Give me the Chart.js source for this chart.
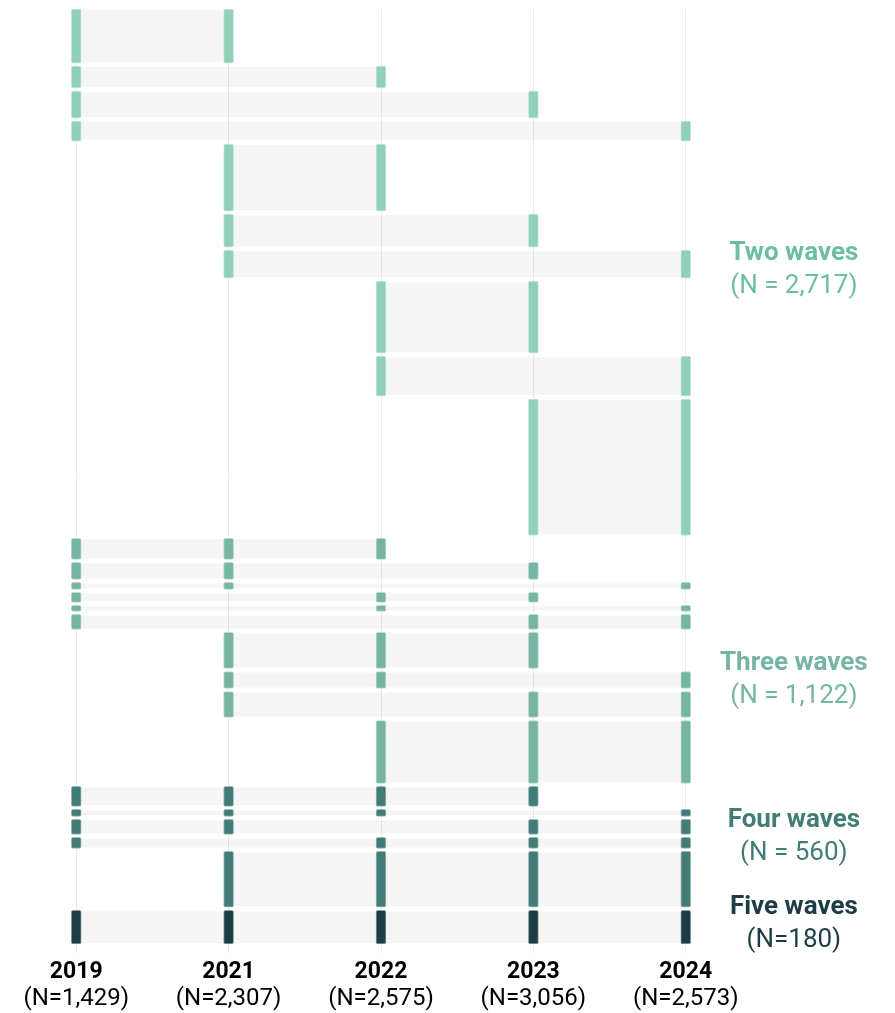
<!DOCTYPE html>
<html><head><meta charset="utf-8">
<script src="https://cdn.jsdelivr.net/npm/chart.js@4/dist/chart.umd.min.js"></script>
<style>html,body{margin:0;padding:0;background:#fff;}canvas{display:block;}</style>
</head><body>
<canvas id="c" width="895" height="1013"></canvas>
<script>
// ---- data ----
const years = ['2019', '2021', '2022', '2023', '2024'];
const yearN = ['(N=1,429)', '(N=2,307)', '(N=2,575)', '(N=3,056)', '(N=2,573)'];
const groupNames = ['Two waves', 'Three waves', 'Four waves', 'Five waves'];
const groupN = ['(N = 2,717)', '(N = 1,122)', '(N = 560)', '(N=180)'];

const twoWaveCombos = [[0,1],[0,2],[0,3],[0,4],[1,2],[1,3],[1,4],[2,3],[2,4],[3,4]];
const twoWaveCounts = [295, 113, 142, 102, 369, 176, 147, 397, 215, 761];
const threeWaveCombos = [[0,1,2],[0,1,3],[0,1,4],[0,2,3],[0,2,4],[0,3,4],[1,2,3],[1,2,4],[1,3,4],[2,3,4]];
const threeWaveCounts = [108, 85, 28, 45, 23, 74, 193, 85, 136, 345];
const fourWaveCombos = [[0,1,2,3],[0,1,2,4],[0,1,3,4],[0,2,3,4],[1,2,3,4]];
const fourWaveCounts = [102, 28, 74, 51, 305];
const fiveWaveCombos = [[0,1,2,3,4]];
const fiveWaveCounts = [180];

// ---- styles / layout ----
const groupColors = ['#8fd0b7', '#76b4a3', '#427c77', '#1c3d45'];
const groupBorders = ['#c4e8da', '#b6d8ce', '#9bbab7', '#8a9ea3'];
const groupTextColors = ['#6cbf9e', '#76b4a3', '#427c77', '#1c3d45'];
const ROW_GAP = 28.5;     // units between rows
const MARK_PAD = 5.8;     // marker overhang in units
const PLOT_H = 935;
const labelShiftPx = [-2, 19, -10, -3];
const LINE_HALF = 16.5;

const groups = [
  {combos: twoWaveCombos, counts: twoWaveCounts},
  {combos: threeWaveCombos, counts: threeWaveCounts},
  {combos: fourWaveCombos, counts: fourWaveCounts},
  {combos: fiveWaveCombos, counts: fiveWaveCounts}
];
const rows = [];
let cursor = 0;
groups.forEach((g, gi) => {
  g.counts.forEach((n, ri) => {
    rows.push({group: gi, combo: g.combos[ri], start: cursor, end: cursor + n});
    cursor += n + ROW_GAP;
  });
});
const yMin = -MARK_PAD;
const yMax = rows[rows.length - 1].end + MARK_PAD;
const upp = (yMax - yMin) / PLOT_H;

const labelTicks = [];
groups.forEach((g, gi) => {
  const gr = rows.filter(r => r.group === gi);
  const c = (gr[0].start + gr[gr.length - 1].end) / 2;
  labelTicks.push({value: c + (labelShiftPx[gi] - LINE_HALF) * upp, text: groupNames[gi], bold: true, color: groupTextColors[gi]});
  labelTicks.push({value: c + (labelShiftPx[gi] + LINE_HALF) * upp, text: groupN[gi], bold: false, color: groupTextColors[gi]});
});

const datasets = [];
rows.forEach(r => {
  const a = r.combo[0], b = r.combo[r.combo.length - 1];
  datasets.push({
    type: 'line',
    data: [{x: a, y: r.start}, {x: b, y: r.start}, {x: b, y: r.end}, {x: a, y: r.end}],
    fill: 'shape',
    backgroundColor: 'rgba(0,0,0,0.04)',
    borderColor: 'rgba(0,0,0,0)',
    borderWidth: 0,
    pointRadius: 0,
    tension: 0,
    order: 2,
    xAxisID: 'x', yAxisID: 'y'
  });
});
groups.forEach((g, gi) => {
  const data = [];
  rows.filter(r => r.group === gi).forEach(r => {
    r.combo.forEach(yi => data.push({x: yi, y: [r.start - MARK_PAD, r.end + MARK_PAD]}));
  });
  datasets.push({
    type: 'bar',
    data,
    backgroundColor: groupColors[gi],
    borderColor: groupBorders[gi],
    borderWidth: 1,
    borderRadius: 2,
    borderSkipped: false,
    barThickness: 10,
    grouped: false,
    order: 0,
    xAxisID: 'x', yAxisID: 'y'
  });
});

new Chart(document.getElementById('c'), {
  type: 'bar',
  data: {datasets},
  options: {
    responsive: false,
    animation: false,
    devicePixelRatio: 1,
    layout: {autoPadding: false, padding: {left: 61, right: 14, top: 9, bottom: 0}},
    plugins: {legend: {display: false}, tooltip: {enabled: false}},
    scales: {
      x: {
        type: 'linear', min: -0.1, max: 4.1, offset: false, position: 'bottom', weight: 0,
        grid: {offset: false, color: '#ebebeb', lineWidth: 1, drawTicks: true, tickLength: 9, tickColor: '#ebebeb'},
        border: {display: false},
        afterBuildTicks: s => { s.ticks = years.map((_, i) => ({value: i})); },
        afterFit: s => { s.height = 40; s.paddingLeft = 0; s.paddingRight = 0; },
        ticks: {autoSkip: false, maxRotation: 0, padding: 7.5, color: '#000',
          font: {family: 'Roboto', size: 23, weight: 'bold', lineHeight: 1},
          callback: (v, i) => years[i]}
      },
      x2: {
        type: 'linear', min: -0.1, max: 4.1, offset: false, position: 'bottom', weight: 1,
        grid: {display: false, drawTicks: false, offset: false},
        border: {display: false},
        afterBuildTicks: s => { s.ticks = yearN.map((_, i) => ({value: i})); },
        afterFit: s => { s.height = 29; s.paddingLeft = 0; s.paddingRight = 0; },
        ticks: {autoSkip: false, maxRotation: 0, padding: 2.5, color: '#000',
          font: {family: 'Roboto', size: 24, weight: 'normal', lineHeight: 1},
          callback: (v, i) => yearN[i]}
      },
      y: {type: 'linear', display: false, min: yMin, max: yMax, reverse: true},
      yl: {
        type: 'linear', position: 'right', min: yMin, max: yMax, reverse: true,
        grid: {display: false, drawTicks: false},
        border: {display: false},
        afterBuildTicks: s => { s.ticks = labelTicks.map(t => ({value: t.value})); },
        afterFit: s => { s.width = 180; s.paddingTop = 0; s.paddingBottom = 0; },
        ticks: {autoSkip: false, crossAlign: 'center', padding: 19,
          callback: (v, i) => labelTicks[i].text,
          color: ctx => labelTicks[ctx.index] ? labelTicks[ctx.index].color : '#000',
          font: ctx => ({family: 'Roboto', size: 26, weight: (labelTicks[ctx.index] && labelTicks[ctx.index].bold) ? 'bold' : 'normal', lineHeight: 1.2})}
      }
    }
  }
});
</script>
</body></html>
